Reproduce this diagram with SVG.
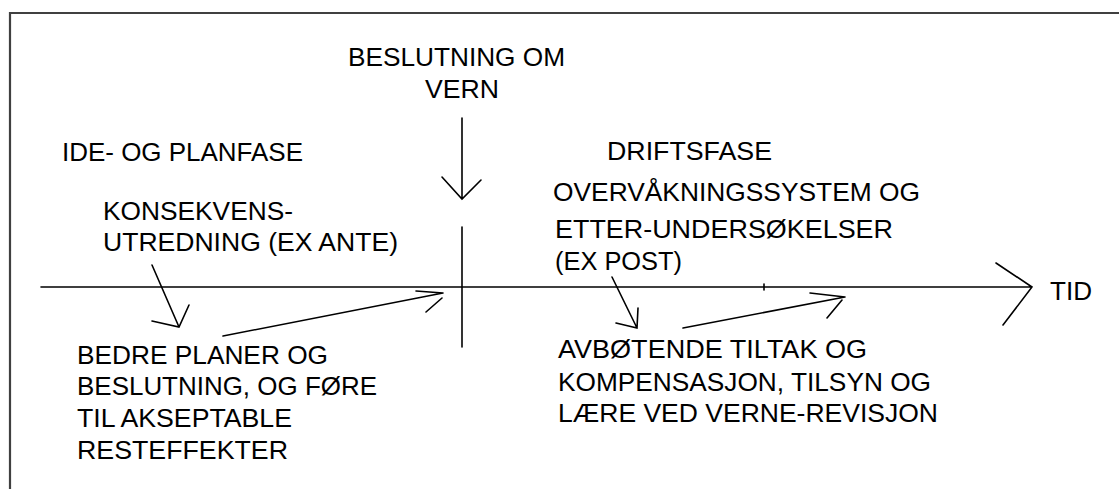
<svg xmlns="http://www.w3.org/2000/svg" width="1119" height="489" viewBox="0 0 1119 489">
<style>
text{font-family:"Liberation Sans",Arial,sans-serif;font-size:25px;fill:#000}
.ln{stroke:#000;stroke-width:1.6;fill:none;stroke-linecap:round}
.frame{stroke:#404040;stroke-width:2.2;fill:none}
</style>
<rect width="1119" height="489" fill="#fff"/>
<path class="frame" d="M10,500 V13 H1130"/>
<g id="connectors">
<path class="ln" d="M41,287 H1032 M996,263 L1032,287 L1003,325"/>
<path class="ln" d="M764,284 V290"/>
<path class="ln" d="M462,227 V347"/>
<path class="ln" d="M462,118 V199 M442,177 L462,199 L481,180"/>
<path class="ln" d="M152,265 L179,327 M152,321 L179,327 L189,305"/>
<path class="ln" d="M223,336 L443,293 M416,291 L443,293 M442,298 L426,312"/>
<path class="ln" d="M612,277 L637,328 M616,323 L637,328 L638,308"/>
<path class="ln" d="M683,328 L845,297 M810,293 L845,297 M842,300 L827,318"/>
</g>
<g id="beslutning"><text x="348" y="66" textLength="217" lengthAdjust="spacingAndGlyphs">BESLUTNING OM</text><text x="425" y="98" textLength="74" lengthAdjust="spacingAndGlyphs">VERN</text></g>
<g id="ideplan"><text x="62" y="161" textLength="241" lengthAdjust="spacingAndGlyphs">IDE- OG PLANFASE</text></g>
<g id="drift"><text x="607" y="160" textLength="165" lengthAdjust="spacingAndGlyphs">DRIFTSFASE</text></g>
<g id="overvaakning"><text x="553" y="201" textLength="367" lengthAdjust="spacingAndGlyphs">OVERVÅKNINGSSYSTEM OG</text><text x="555" y="238" textLength="338" lengthAdjust="spacingAndGlyphs">ETTER-UNDERSØKELSER</text><text x="555" y="270" textLength="127" lengthAdjust="spacingAndGlyphs">(EX POST)</text></g>
<g id="konsekvens"><text x="103" y="220" textLength="190" lengthAdjust="spacingAndGlyphs">KONSEKVENS-</text><text x="103" y="251" textLength="295" lengthAdjust="spacingAndGlyphs">UTREDNING (EX ANTE)</text></g>
<g id="bedre"><text x="77" y="364" textLength="251" lengthAdjust="spacingAndGlyphs">BEDRE PLANER OG</text><text x="77" y="395" textLength="300" lengthAdjust="spacingAndGlyphs">BESLUTNING, OG FØRE</text><text x="77" y="427" textLength="215" lengthAdjust="spacingAndGlyphs">TIL AKSEPTABLE</text><text x="77" y="459" textLength="211" lengthAdjust="spacingAndGlyphs">RESTEFFEKTER</text></g>
<g id="avbotende"><text x="558" y="358" textLength="309" lengthAdjust="spacingAndGlyphs">AVBØTENDE TILTAK OG</text><text x="558" y="391" textLength="373" lengthAdjust="spacingAndGlyphs">KOMPENSASJON, TILSYN OG</text><text x="558" y="422" textLength="380" lengthAdjust="spacingAndGlyphs">LÆRE VED VERNE-REVISJON</text></g>
<g id="tid"><text x="1050" y="300" textLength="42" lengthAdjust="spacingAndGlyphs">TID</text></g>
</svg>
